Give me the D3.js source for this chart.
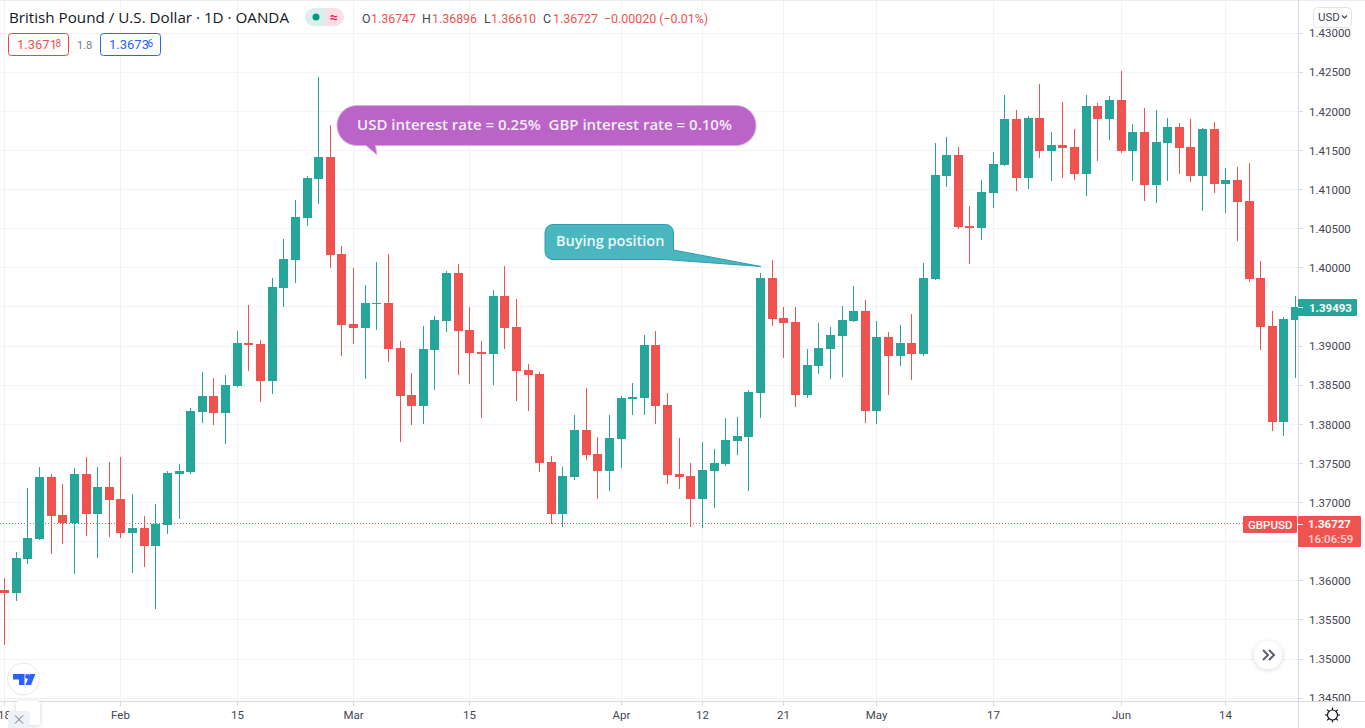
<!DOCTYPE html>
<html><head><meta charset="utf-8">
<script src="https://cdn.jsdelivr.net/npm/d3@7/dist/d3.min.js"></script>
<style>html,body{margin:0;padding:0;background:#fff;overflow:hidden}svg{display:block;font-family:Roboto,sans-serif}</style>
</head><body><svg id="c" width="1365" height="728"></svg>
<script>
const opens=[1.35885,1.35847,1.36281,1.36536,1.37329,1.36843,1.36741,1.37367,1.36856,1.37201,
1.37047,1.36613,1.36677,1.36446,1.36715,1.37367,1.37392,1.38158,1.38363,1.38146,
1.38490,1.39040,1.39027,1.38554,1.39743,1.40100,1.40637,1.41135,1.41417,1.40177,
1.39283,1.39232,1.39538,1.39551,1.38976,1.38376,1.38235,1.38951,1.39321,1.39935,
1.39206,1.38925,1.38900,1.39640,1.39245,1.38695,1.38644,1.37519,1.36856,1.37329,
1.37929,1.37622,1.37405,1.37814,1.38325,1.38338,1.39014,1.38248,1.37367,1.37341,
1.37047,1.37405,1.37494,1.37788,1.37840,1.38402,1.39871,1.39360,1.39308,1.38376,
1.38746,1.38963,1.39129,1.39321,1.39449,1.38171,1.39116,1.38874,1.39040,1.38900,
1.39858,1.41173,1.41442,1.40534,1.40509,1.40957,1.41314,1.41902,1.41148,1.41915,
1.41493,1.41569,1.41544,1.41199,1.42067,1.41902,1.42144,1.41493,1.41735,1.41058,
1.41595,1.41800,1.41544,1.41173,1.41774,1.41071,1.41122,1.40854,1.39871,1.39257,
1.38030,1.39334];
const highs=[1.36038,1.36370,1.37188,1.37456,1.37367,1.37239,1.37443,1.37584,1.37456,1.37519,
1.37584,1.37111,1.36830,1.36983,1.37405,1.37494,1.38210,1.38669,1.38593,1.38631,
1.39193,1.39525,1.39078,1.39871,1.40369,1.40867,1.41173,1.42439,1.41825,1.40279,
1.39998,1.39781,1.40074,1.40177,1.39065,1.38657,1.39257,1.39385,1.39960,1.40049,
1.39500,1.39065,1.39717,1.40023,1.39602,1.38772,1.38669,1.37596,1.37456,1.38120,
1.38465,1.37840,1.38120,1.38363,1.38529,1.39142,1.39193,1.38402,1.37827,1.37507,
1.37775,1.37686,1.38082,1.38095,1.38440,1.39935,1.40100,1.39500,1.39500,1.38963,
1.39296,1.39245,1.39512,1.39768,1.39589,1.39321,1.39180,1.39270,1.39411,1.40062,
1.41595,1.41672,1.41544,1.40790,1.41122,1.41480,1.42208,1.42017,1.41940,1.42349,
1.41735,1.42118,1.41774,1.42208,1.42106,1.42195,1.42515,1.41838,1.42042,1.42017,
1.41915,1.41851,1.41902,1.41787,1.41863,1.41276,1.41289,1.41340,1.40087,1.39449,
1.39372,1.39640];
const lows=[1.35182,1.35744,1.36217,1.36523,1.36345,1.36472,1.36089,1.36574,1.36294,1.36562,
1.36549,1.36102,1.36179,1.35642,1.36600,1.36792,1.37367,1.38018,1.37992,1.37750,
1.38478,1.38682,1.38286,1.38389,1.39500,1.39807,1.40534,1.40816,1.39998,1.38874,
1.39027,1.38580,1.39206,1.38797,1.37775,1.37992,1.38005,1.38440,1.39180,1.38631,
1.38516,1.38082,1.38503,1.38963,1.38299,1.38171,1.37392,1.36728,1.36690,1.37290,
1.37545,1.37047,1.37149,1.37443,1.38120,1.38120,1.38005,1.37239,1.37175,1.36690,
1.36677,1.36932,1.37468,1.37609,1.37149,1.38082,1.39257,1.38849,1.38223,1.38338,
1.38644,1.38580,1.38605,1.39308,1.38018,1.38005,1.38376,1.38746,1.38567,1.38874,
1.39845,1.41033,1.40497,1.40049,1.40356,1.40765,1.41301,1.40982,1.41007,1.41404,
1.41109,1.41148,1.41122,1.40918,1.41365,1.41633,1.41467,1.41109,1.40854,1.40829,
1.41109,1.41199,1.41096,1.40726,1.40957,1.40701,1.40343,1.39819,1.38951,1.37916,
1.37852,1.38593];
const closes=[1.35847,1.36294,1.36549,1.37329,1.36830,1.36741,1.37367,1.36856,1.37201,1.37034,
1.36613,1.36677,1.36446,1.36728,1.37380,1.37405,1.38171,1.38363,1.38146,1.38503,
1.39040,1.39014,1.38554,1.39756,1.40113,1.40650,1.41148,1.41417,1.40164,1.39270,
1.39232,1.39551,1.39551,1.38963,1.38363,1.38235,1.38963,1.39334,1.39935,1.39193,
1.38913,1.38900,1.39640,1.39232,1.38682,1.38631,1.37507,1.36856,1.37341,1.37929,
1.37609,1.37405,1.37827,1.38338,1.38350,1.39014,1.38235,1.37354,1.37329,1.37047,
1.37418,1.37507,1.37801,1.37852,1.38414,1.39871,1.39347,1.39296,1.38376,1.38759,
1.38976,1.39142,1.39334,1.39449,1.38171,1.39116,1.38874,1.39040,1.38900,1.39871,
1.41186,1.41442,1.40522,1.40509,1.40969,1.41327,1.41902,1.41148,1.41915,1.41493,
1.41569,1.41531,1.41199,1.42067,1.41902,1.42144,1.41493,1.41735,1.41058,1.41607,
1.41800,1.41531,1.41173,1.41774,1.41071,1.41122,1.40841,1.39858,1.39245,1.38030,
1.39347,1.39500];
const priceTicks=[1.43,1.425,1.42,1.415,1.41,1.405,1.4,1.395,1.39,1.385,1.38,1.375,1.37,1.365,1.36,1.355,1.35,1.345];
const timeTickIndex=[0,10,20,30,40,53,60,67,75,85,96,105];
const timeTickLabels=["18","Feb","15","Mar","15","Apr","12","21","May","17","Jun","14"];
const lastPrice=1.36727, sidePrice=1.39493;
const UP="#26a69a",DOWN="#ef5350",TXT="#131722",AX="#434651";
const x=d3.scaleLinear().domain([0,111]).range([4.65,1295.58]);
const y=d3.scaleLinear().domain([1.42,1.38]).range([111.3,424.3]);
const col=i=>Math.floor(x(i));
const svg=d3.select("#c");
const defs=svg.append("defs");
defs.append("clipPath").attr("id","plot").append("rect").attr("width",1298).attr("height",701);
const f=defs.append("filter").attr("id","sh").attr("x","-50%").attr("y","-50%").attr("width","200%").attr("height","200%");
f.append("feDropShadow").attr("dx",0).attr("dy",1).attr("stdDeviation",2.5).attr("flood-color","#000").attr("flood-opacity",.18);

// top strip
svg.append("rect").attr("width",1365).attr("height",1).attr("fill","#e9ecf2");

// grid
const g=svg.append("g").attr("shape-rendering","crispEdges");
g.selectAll(".h").data(priceTicks).join("line").attr("x1",0).attr("x2",1298)
 .attr("y1",d=>Math.floor(y(d))+.5).attr("y2",d=>Math.floor(y(d))+.5).attr("stroke","#f1f3f6");
g.selectAll(".v").data(timeTickIndex).join("line").attr("y1",0).attr("y2",701)
 .attr("x1",d=>col(d)+.5).attr("x2",d=>col(d)+.5).attr("stroke","#f1f3f6");

// current price dotted line, one pixel on and two off
svg.append("g").attr("shape-rendering","crispEdges").selectAll("rect").data(d3.range(0,1243,3)).join("rect")
 .attr("x",d=>d).attr("y",Math.floor(y(lastPrice))).attr("width",1).attr("height",1).attr("fill",DOWN);

// candles
const idx=d3.range(opens.length);
const pl=svg.append("g").attr("clip-path","url(#plot)").attr("shape-rendering","crispEdges");
const cc=i=>closes[i]>=opens[i]?UP:DOWN;
pl.selectAll(".w").data(idx).join("rect").attr("x",col).attr("width",1)
 .attr("y",i=>Math.round(y(highs[i]))).attr("height",i=>Math.round(y(lows[i]))-Math.round(y(highs[i]))).attr("fill",cc);
pl.selectAll(".b").data(idx).join("rect").attr("x",i=>col(i)-4).attr("width",9)
 .attr("y",i=>Math.round(y(Math.max(opens[i],closes[i]))))
 .attr("height",i=>Math.max(1,Math.round(y(Math.min(opens[i],closes[i])))-Math.round(y(Math.max(opens[i],closes[i]))))).attr("fill",cc);

// axes
const ax=svg.append("g").attr("shape-rendering","crispEdges");
ax.append("line").attr("x1",1298.5).attr("x2",1298.5).attr("y1",0).attr("y2",728).attr("stroke","#d9dbe0");
ax.append("line").attr("x1",0).attr("x2",1365).attr("y1",701.5).attr("y2",701.5).attr("stroke","#d9dbe0");
ax.selectAll(".pt").data(priceTicks).join("line").attr("x1",1299).attr("x2",1303)
 .attr("y1",d=>Math.floor(y(d))+.5).attr("y2",d=>Math.floor(y(d))+.5).attr("stroke","#d9dbe0");
ax.selectAll(".tt").data(timeTickIndex).join("line").attr("y1",702).attr("y2",706)
 .attr("x1",d=>col(d)+.5).attr("x2",d=>col(d)+.5).attr("stroke","#d9dbe0");
svg.append("clipPath").attr("id","pa").append("rect").attr("x",1299).attr("width",66).attr("height",701);
svg.append("g").attr("clip-path","url(#pa)").selectAll("text").data(priceTicks).join("text")
 .attr("x",1309).attr("y",d=>y(d)+4.3).attr("font-size",11.5).attr("fill",AX).text(d=>d.toFixed(5));
svg.append("g").selectAll("text").data(timeTickIndex).join("text").attr("x",d=>col(d)+.5).attr("y",719)
 .attr("text-anchor","middle").attr("font-size",11.5).attr("fill",AX).text((d,i)=>timeTickLabels[i]);

// annotations
svg.append("path").attr("d","M357,105.5H736A20,20 0 0 1 736,145.5H375.5L376.7,154.5L366,145.5H357A20,20 0 0 1 357,105.5Z")
 .attr("fill","#b964c6").attr("stroke","#d9a9e0").attr("stroke-width",1);
svg.append("text").attr("x",357).attr("y",130).attr("font-family","'Open Sans',sans-serif").attr("font-size",15).attr("font-weight",600).attr("fill","#f6ecf8")
 .attr("xml:space","preserve").style("white-space","pre").text("USD interest rate = 0.25%  GBP interest rate = 0.10%");
svg.append("path").attr("d","M553,224.5H665.5A8,8 0 0 1 673.5,232.5V250L761,266.5L665,259.5H553A8,8 0 0 1 545,251.5V232.5A8,8 0 0 1 553,224.5Z")
 .attr("fill","#4bb6c0").attr("stroke","#2b9fb0").attr("stroke-width",1);
svg.append("text").attr("x",556).attr("y",246).attr("font-family","'Open Sans',sans-serif").attr("font-size",14.5).attr("font-weight",600).attr("fill","#eaf8f9").text("Buying position");

// header
svg.append("text").attr("x",9).attr("y",23).attr("font-family","'Open Sans',sans-serif").attr("font-size",15.2).attr("fill",TXT).text("British Pound / U.S. Dollar · 1D · OANDA");
svg.append("path").attr("d","M314,8H325V26H314a9,9 0 0 1 0,-18Z").attr("fill","#d9f0ed");
svg.append("path").attr("d","M325,8H335a9,9 0 0 1 0,18H325Z").attr("fill","#fbdfe7");
svg.append("circle").attr("cx",316).attr("cy",17).attr("r",3.5).attr("fill","#089981");
svg.append("text").attr("x",334).attr("y",22).attr("text-anchor","middle").attr("font-size",14).attr("font-weight",700).attr("fill","#e91e63").text("≈");
const legend=[[362,"O",AX],[371,"1.36747",DOWN],[422,"H",AX],[432,"1.36896",DOWN],[484,"L",AX],[491,"1.36610",DOWN],[543,"C",AX],[553,"1.36727",DOWN],[604,"−0.00020 (−0.01%)",DOWN]];
svg.append("g").selectAll("text").data(legend).join("text").attr("x",d=>d[0]).attr("y",23).attr("font-size",12.4).attr("fill",d=>d[2]).text(d=>d[1]);
svg.append("rect").attr("x",8.5).attr("y",33.5).attr("width",60).attr("height",22).attr("rx",3).attr("fill","#fff").attr("stroke","#f44336");
svg.append("text").attr("x",17).attr("y",49).attr("font-size",13).attr("fill",DOWN).text("1.3671");
svg.append("text").attr("x",55.5).attr("y",47).attr("font-size",10).attr("fill",DOWN).text("8");
svg.append("text").attr("x",77).attr("y",49).attr("font-size",11).attr("fill","#787b86").text("1.8");
svg.append("rect").attr("x",100.5).attr("y",33.5).attr("width",60).attr("height",22).attr("rx",3).attr("fill","#fff").attr("stroke","#2962ff");
svg.append("text").attr("x",109).attr("y",49).attr("font-size",13).attr("fill","#2962ff").text("1.3673");
svg.append("text").attr("x",147.5).attr("y",47).attr("font-size",10).attr("fill","#2962ff").text("6");

// USD chip
svg.append("rect").attr("x",1313.5).attr("y",7.5).attr("width",38).attr("height",20).attr("rx",4).attr("fill","#fff").attr("stroke","#e0e3eb");
svg.append("text").attr("x",1318).attr("y",21).attr("font-size",11.5).attr("fill",AX).text("USD");
svg.append("path").attr("d","M1342,15.5l2.5,2.5l2.5,-2.5").attr("fill","none").attr("stroke",AX).attr("stroke-width",1.2);

// price tags
svg.append("rect").attr("x",1298).attr("y",299).attr("width",59).attr("height",17).attr("rx",1).attr("fill",UP);
svg.append("rect").attr("x",1298).attr("y",307).attr("width",5).attr("height",1).attr("fill","#fff");
svg.append("text").attr("x",1309).attr("y",y(sidePrice)+4.5).attr("font-size",11.5).attr("font-weight",700).attr("fill","#fff").text(sidePrice.toFixed(5));
svg.append("rect").attr("x",1243).attr("y",516).attr("width",54).attr("height",17).attr("rx",1).attr("fill",DOWN);
svg.append("text").attr("x",1248).attr("y",529).attr("font-size",11.5).attr("font-weight",500).attr("fill","#fff").text("GBPUSD");
svg.append("rect").attr("x",1298).attr("y",516).attr("width",63).attr("height",31).attr("rx",1).attr("fill",DOWN);
svg.append("rect").attr("x",1298).attr("y",524).attr("width",5).attr("height",1).attr("fill","#fff");
svg.append("text").attr("x",1308).attr("y",528).attr("font-size",11.5).attr("font-weight",700).attr("fill","#fff").text(lastPrice.toFixed(5));
svg.append("text").attr("x",1308).attr("y",543).attr("font-size",11.5).attr("font-weight",500).attr("fill","#fbd5d4").text("16:06:59");

// scroll button
svg.append("circle").attr("cx",1268).attr("cy",655).attr("r",14).attr("fill","#fff").attr("filter","url(#sh)");
svg.append("path").attr("d","M1263,650l5,5l-5,5M1269,650l5,5l-5,5").attr("fill","none").attr("stroke","#5d606b").attr("stroke-width",2);

// gear
const gear=svg.append("g").attr("transform","translate(1332.5,715)");
gear.append("circle").attr("r",5).attr("fill","none").attr("stroke",TXT).attr("stroke-width",1.2);
gear.selectAll("line").data(d3.range(8)).join("line").attr("x1",5).attr("x2",7.5).attr("y1",0).attr("y2",0)
 .attr("transform",d=>`rotate(${d*45})`).attr("stroke",TXT).attr("stroke-width",1.2);

// logo
svg.append("circle").attr("cx",23.5).attr("cy",679).attr("r",16).attr("fill","#fff").attr("stroke","#e6e8ec").attr("stroke-width",1);
svg.append("path").attr("d","M13,674H24.5V685H19V679.5H13Z").attr("fill","#2962ff");
svg.append("circle").attr("cx",27.5).attr("cy",676.5).attr("r",2.4).attr("fill","#2962ff");
svg.append("path").attr("d","M30,674H35.5L31,685H25.5Z").attr("fill","#2962ff");

// bottom-left popup
svg.append("rect").attr("x",16).attr("y",701).attr("width",24).attr("height",24).attr("rx",3).attr("fill","#fff").attr("filter","url(#sh)");
svg.append("rect").attr("x",8).attr("y",711).attr("width",22).attr("height",20).attr("rx",4).attr("fill","#eef1f8");
svg.append("path").attr("d","M15,715.5l8,8M23,715.5l-8,8").attr("stroke","#6a6d78").attr("stroke-width",1).attr("fill","none");
</script></body></html>
